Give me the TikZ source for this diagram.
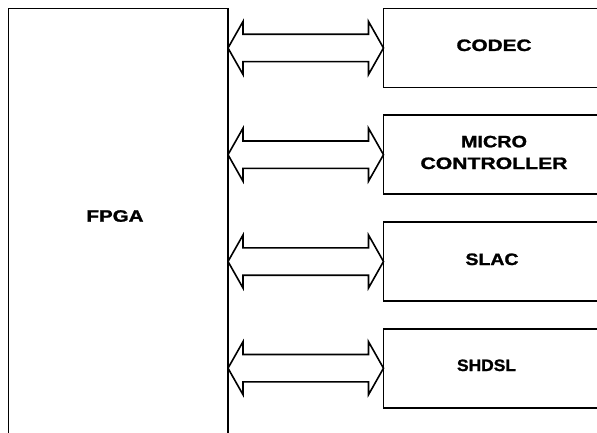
\documentclass[tikz,border=0pt]{standalone}
\usepackage{fontspec}
\setmainfont{Liberation Sans}
\newfontfamily\lblfont{Liberation Sans Bold}[FakeBold=1.3]
\usetikzlibrary{calc}

% label stretched to a fixed ink width
\newcommand{\wlabel}[2]{\resizebox{#1}{\height}{#2}}

% hollow double-headed bus arrow between two points
\newcommand{\busarrow}[2]{%
  \draw[busline] (#1) -- ++(15,26.5) -- ++(0,-12.8)
    -- ($(#2)+(-15,13.7)$) -- ++(0,12.8) -- (#2)
    -- ++(-15,-26.5) -- ++(0,12.8)
    -- ($(#1)+(15,-13.7)$) -- ++(0,-12.8) -- cycle;}

\tikzset{
  blockbox/.style={draw=black, line width=1.7pt, outer sep=0pt, inner sep=0pt,
    fill=white},
  devbox/.style={blockbox, minimum width=220.5pt, minimum height=79pt},
  busline/.style={draw=black, line width=1.6pt, line join=miter, fill=white},
  lbl/.style={anchor=base, inner sep=0pt, text=black,
    font=\lblfont\fontsize{16.5}{21.7}\selectfont, align=center},
}

\begin{document}
\begin{tikzpicture}[x=1pt, y=1pt]
  \useasboundingbox (0,0) rectangle (597,432);
  \fill[white] (0,0) rectangle (597,432);
  \clip (0,0) rectangle (597,432);

  % main device, running past the lower edge
  \node[blockbox, minimum width=219.5pt, minimum height=443.5pt]
    (fpga) at (118.25,201.75) {};

  % peripheral devices, running past the right edge
  \node[devbox] (codec) at (493.75,384)   {};
  \node[devbox] (micro) at (493.75,277.3) {};
  \node[devbox] (slac)  at (493.75,170.5) {};
  \node[devbox] (shdsl) at (493.75,63.8)  {};

  % bus connections
  \coordinate (p1) at (fpga.east |- codec.west);
  \coordinate (p2) at (fpga.east |- micro.west);
  \coordinate (p3) at (fpga.east |- slac.west);
  \coordinate (p4) at (fpga.east |- shdsl.west);
  \busarrow{p1}{codec.west}
  \busarrow{p2}{micro.west}
  \busarrow{p3}{slac.west}
  \busarrow{p4}{shdsl.west}

  % labels (a two-line node sits on the baseline of its last line)
  \node[lbl] (fpgalbl)  at (115,210.3) {\wlabel{57pt}{FPGA}};
  \node[lbl] (codeclbl) at (494,381)   {\wlabel{75pt}{CODEC}};
  \node[lbl] (microlbl) at (494,263)
    {\wlabel{66pt}{MICRO}\\\wlabel{147pt}{CONTROLLER}};
  \node[lbl] (slaclbl)  at (492,167)   {\wlabel{53pt}{SLAC}};
  \node[lbl] (shdsllbl) at (486.5,61)  {\wlabel{59pt}{SHDSL}};
\end{tikzpicture}
\end{document}
